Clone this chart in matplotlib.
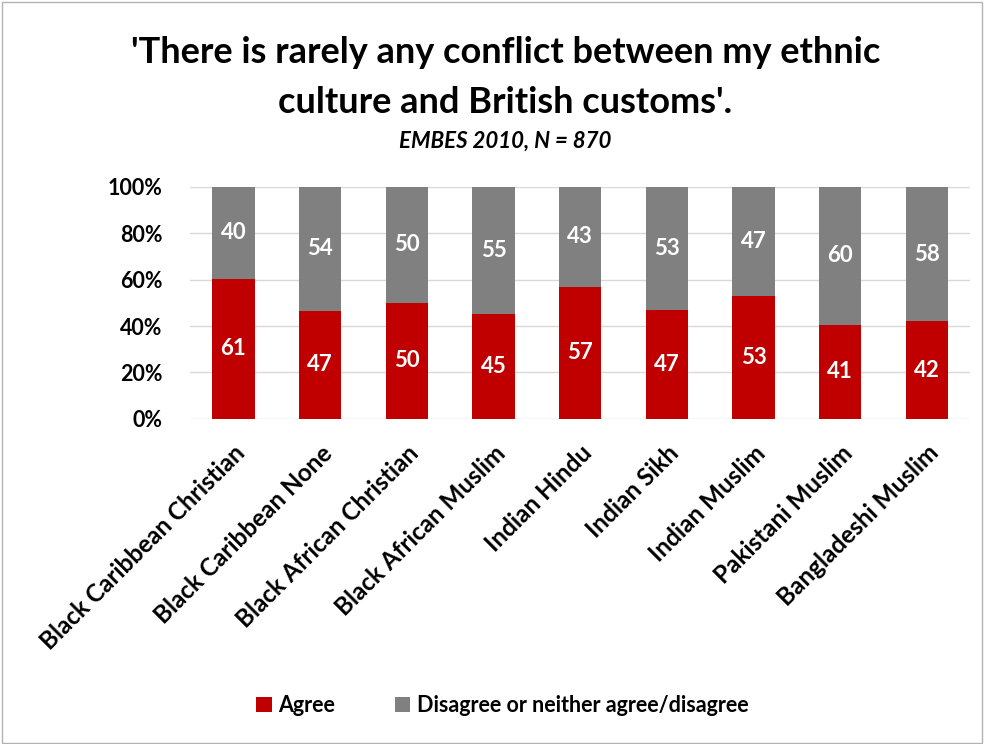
import matplotlib.pyplot as plt
import numpy as np
from matplotlib.patches import Rectangle

plt.rcParams['font.family'] = ['Lato', 'DejaVu Sans']

# Survey groups and response counts (percent, as labelled)
groups = ['Black Caribbean Christian', 'Black Caribbean None',
          'Black African Christian', 'Black African Muslim', 'Indian Hindu',
          'Indian Sikh', 'Indian Muslim', 'Pakistani Muslim',
          'Bangladeshi Muslim']
agree = [61, 47, 50, 45, 57, 47, 53, 41, 42]
disagree = [40, 54, 50, 55, 43, 53, 47, 60, 58]

# Scale each column to 100%
agree = np.array(agree)
disagree = np.array(disagree)
total = agree + disagree
agree_pct = agree / total * 100
disagree_pct = disagree / total * 100

red = '#c00000'
grey = '#808080'

fig = plt.figure(figsize=(9.85, 7.44), dpi=100)
ax = fig.add_axes([0.193, 0.437, 0.792, 0.312])

x = np.arange(len(groups))
width = 0.49
b1 = ax.bar(x, agree_pct, width, color=red, label='Agree', zorder=2)
b2 = ax.bar(x, disagree_pct, width, bottom=agree_pct, color=grey,
            label='Disagree or neither agree/disagree', zorder=2)

for i in range(len(groups)):
    ax.text(x[i], agree_pct[i] / 2, str(agree[i]), ha='center', va='center',
            color='white', fontsize=16, fontweight='bold')
    ax.text(x[i], agree_pct[i] + disagree_pct[i] / 2, str(disagree[i]),
            ha='center', va='center', color='white', fontsize=16,
            fontweight='bold')

ax.set_xlim(-0.5, len(groups) - 0.5)
ax.set_ylim(0, 100)
ax.set_yticks(np.arange(0, 101, 20))
ax.set_yticklabels([f'{v}%' for v in range(0, 101, 20)], fontsize=15.5,
                   fontweight='bold')
ax.set_xticks(x)
ax.set_xticklabels(groups, rotation=45, ha='right', rotation_mode='anchor',
                   fontsize=17.5, fontweight='bold')
ax.grid(axis='y', color='#d9d9d9', linewidth=1, zorder=0)
ax.set_frame_on(False)
ax.tick_params(length=0)
ax.tick_params(axis='x', pad=16)
ax.tick_params(axis='y', pad=20)

fig.text(0.513, 0.93, "'There is rarely any conflict between my ethnic",
         ha='center', va='center', fontsize=26, fontweight='bold')
fig.text(0.513, 0.862, "culture and British customs'.",
         ha='center', va='center', fontsize=26, fontweight='bold')
fig.text(0.513, 0.81, 'EMBES 2010, N = 870', ha='center', va='center',
         fontsize=16, fontweight='bold', style='italic')

fig.legend(handles=[b1, b2], loc='center', bbox_to_anchor=(0.51, 0.052),
           ncol=2, frameon=False, handlelength=0.7,
           handleheight=0.7, handletextpad=0.3, columnspacing=2.8,
           prop={'weight': 'bold', 'size': 15.5})

fig.patches.append(Rectangle((0.002, 0.002), 0.995, 0.995,
                             transform=fig.transFigure, fill=False,
                             edgecolor='0.7', linewidth=1))

fig.savefig('out.png', dpi=100)
